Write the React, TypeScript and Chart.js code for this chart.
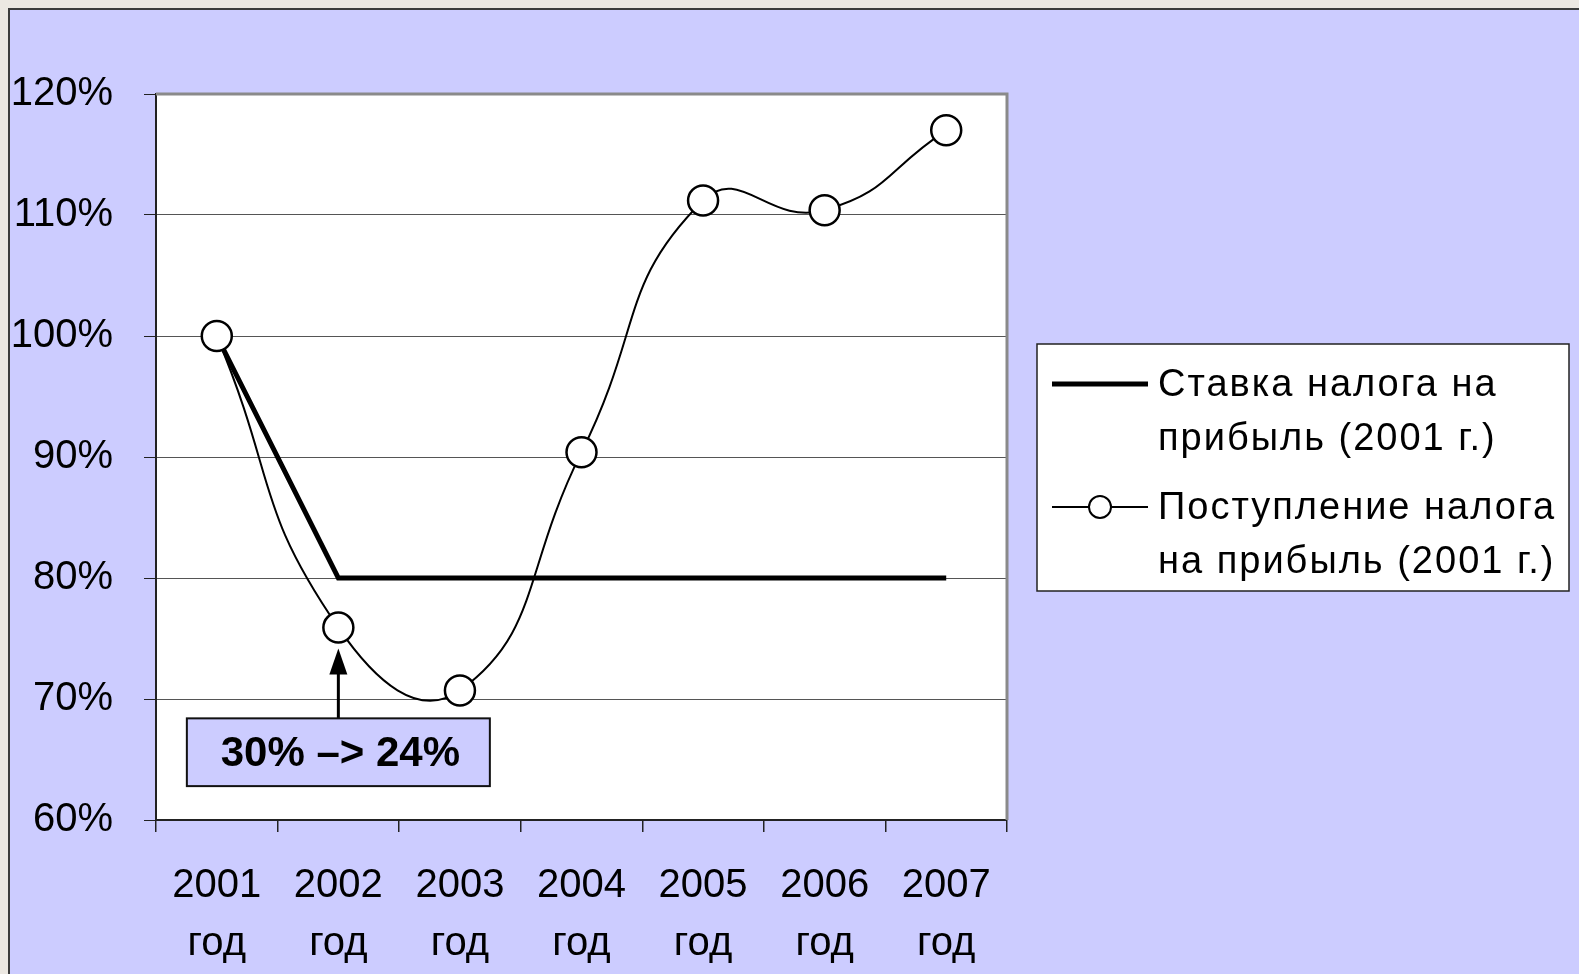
import React, { useEffect, useRef } from "react";
import { Chart, registerables } from "chart.js";

Chart.register(...registerables);

// ---- data ----
const categories = ["2001", "2002", "2003", "2004", "2005", "2006", "2007"];
const yearSuffix = "год";
const rateSeries = [100, 80, 80, 80, 80, 80, 80];
const revenueSeries = [100, 75.9, 70.7, 90.4, 111.2, 110.4, 117];
const yMin = 60;
const yMax = 120;
const yStep = 10;
const rateLabel = ["Ставка налога на", "прибыль (2001 г.)"];
const revenueLabel = ["Поступление налога", "на прибыль (2001 г.)"];
const annotationText = "30% –> 24%";
const annotationIndex = 1;
const annotationBoxTop = 68.4;
const annotationBoxBottom = 62.8;

const FONT = "'Liberation Sans', Arial, sans-serif";
const LAVENDER = "#CCCCFF";

const CANVAS_W = 1569;
const CANVAS_H = 964;

const decorPlugin = {
  id: "decor",
  beforeDraw(chart: any) {
    const { ctx, chartArea } = chart;
    ctx.save();
    ctx.fillStyle = "#ffffff";
    ctx.fillRect(chartArea.left, chartArea.top, chartArea.right - chartArea.left, chartArea.bottom - chartArea.top);
    ctx.restore();
  },
  beforeDatasetsDraw(chart: any) {
    const { ctx, chartArea } = chart;
    ctx.save();
    ctx.strokeStyle = "#8a8a8a";
    ctx.lineWidth = 3;
    ctx.beginPath();
    ctx.moveTo(chartArea.left, chartArea.top);
    ctx.lineTo(chartArea.right, chartArea.top);
    ctx.lineTo(chartArea.right, chartArea.bottom);
    ctx.stroke();
    ctx.restore();
  },
  afterDatasetsDraw(chart: any) {
    const { ctx } = chart;
    const xs = chart.scales.x;
    const ys = chart.scales.y;
    const cx = xs.getPixelForValue(annotationIndex);
    const boxW = 303;
    const top = ys.getPixelForValue(annotationBoxTop);
    const bottom = ys.getPixelForValue(annotationBoxBottom);
    const pointY = ys.getPixelForValue(revenueSeries[annotationIndex]);
    const tipY = pointY + 21;
    ctx.save();
    // arrow
    ctx.strokeStyle = "#000";
    ctx.fillStyle = "#000";
    ctx.lineWidth = 3;
    ctx.beginPath();
    ctx.moveTo(cx, top);
    ctx.lineTo(cx, tipY + 20);
    ctx.stroke();
    ctx.beginPath();
    ctx.moveTo(cx, tipY);
    ctx.lineTo(cx - 9, tipY + 26);
    ctx.lineTo(cx + 9, tipY + 26);
    ctx.closePath();
    ctx.fill();
    // box
    ctx.fillStyle = LAVENDER;
    ctx.fillRect(cx - boxW / 2, top, boxW, bottom - top);
    ctx.lineWidth = 2;
    ctx.strokeStyle = "#111";
    ctx.strokeRect(cx - boxW / 2, top, boxW, bottom - top);
    ctx.fillStyle = "#000";
    ctx.font = `bold 42px ${FONT}`;
    ctx.textAlign = "center";
    ctx.textBaseline = "middle";
    ctx.fillText(annotationText, cx + 2, (top + bottom) / 2 + 2);
    ctx.restore();
  },
  afterDraw(chart: any) {
    const { ctx, chartArea } = chart;
    const lx = chartArea.right + 30;
    const ly = 334;
    const lw = 532;
    const lh = 247;
    ctx.save();
    ctx.fillStyle = "#ffffff";
    ctx.fillRect(lx, ly, lw, lh);
    ctx.strokeStyle = "#222";
    ctx.lineWidth = 1.5;
    ctx.strokeRect(lx, ly, lw, lh);

    const sx1 = lx + 15;
    const sx2 = lx + 111;
    const tx = lx + 121;
    const y1 = ly + 40;
    const y2 = ly + 163;
    const lineGap = 54;

    // entry 1
    ctx.strokeStyle = "#000";
    ctx.lineWidth = 5;
    ctx.beginPath();
    ctx.moveTo(sx1, y1);
    ctx.lineTo(sx2, y1);
    ctx.stroke();
    // entry 2
    ctx.lineWidth = 2;
    ctx.beginPath();
    ctx.moveTo(sx1, y2);
    ctx.lineTo(sx2, y2);
    ctx.stroke();
    ctx.beginPath();
    ctx.arc((sx1 + sx2) / 2, y2, 11, 0, Math.PI * 2);
    ctx.fillStyle = "#fff";
    ctx.fill();
    ctx.stroke();

    ctx.fillStyle = "#000";
    ctx.font = `38px ${FONT}`;
    (ctx as any).letterSpacing = "2px";
    ctx.textAlign = "left";
    ctx.textBaseline = "middle";
    rateLabel.forEach((t, i) => ctx.fillText(t, tx, y1 + 2 + i * lineGap));
    revenueLabel.forEach((t, i) => ctx.fillText(t, tx, y2 + 2 + i * lineGap));
    ctx.restore();
  },
};

export default function App() {
  const canvasRef = useRef<HTMLCanvasElement | null>(null);

  useEffect(() => {
    document.body.style.background = "#ECE8E2";
    document.body.style.overflow = "hidden";
    const canvas = canvasRef.current;
    if (!canvas) return;
    const chart = new Chart(canvas, {
      type: "line",
      data: {
        labels: categories.map((c) => [c, yearSuffix]),
        datasets: [
          {
            label: revenueLabel.join(" "),
            data: revenueSeries,
            borderColor: "#000",
            borderWidth: 2,
            tension: 0.5,
            pointRadius: 15,
            pointBorderWidth: 2.5,
            pointBackgroundColor: "#fff",
            pointBorderColor: "#000",
            order: 0,
          },
          {
            label: rateLabel.join(" "),
            data: rateSeries,
            borderColor: "#000",
            borderWidth: 5,
            tension: 0,
            pointRadius: 0,
            borderJoinStyle: "miter",
            order: 1,
          },
        ],
      },
      options: {
        responsive: false,
        animation: false,
        events: [],
        layout: { padding: { top: 84, right: 572, left: 0, bottom: 0 } },
        plugins: {
          legend: { display: false },
          tooltip: { enabled: false },
          title: { display: false },
        },
        scales: {
          x: {
            type: "category",
            offset: true,
            grid: {
              display: true,
              offset: true,
              drawOnChartArea: false,
              drawTicks: true,
              tickLength: 12,
              color: "#222",
              lineWidth: 1.5,
            },
            border: { display: true, color: "#222", width: 2 },
            ticks: {
              color: "#000",
              font: { family: FONT, size: 40, lineHeight: 1.45 },
              padding: 25,
              maxRotation: 0,
              autoSkip: false,
            },
            afterFit: (s: any) => {
              s.height = 154;
            },
          },
          y: {
            min: yMin,
            max: yMax,
            grid: {
              color: "#555",
              lineWidth: 1,
              tickLength: 12,
              tickColor: "#222",
              drawTicks: true,
            },
            border: { display: true, color: "#222", width: 2 },
            ticks: {
              stepSize: yStep,
              color: "#000",
              padding: 31,
              font: { family: FONT, size: 40 },
              callback: (v: any) => `${v}%`,
            },
            afterFit: (s: any) => {
              s.width = 146;
            },
          },
        },
      },
      plugins: [decorPlugin],
    });
    return () => chart.destroy();
  }, []);

  return (
    <div
      style={{
        position: "fixed",
        left: 8,
        top: 8,
        right: 0,
        bottom: 0,
        background: LAVENDER,
        borderTop: "2px solid #3c3c3c",
        borderLeft: "2px solid #3c3c3c",
        overflow: "hidden",
      }}
    >
      <canvas
        ref={canvasRef}
        width={CANVAS_W}
        height={CANVAS_H}
        style={{ position: "absolute", left: 0, top: 0, display: "block" }}
      />
    </div>
  );
}
